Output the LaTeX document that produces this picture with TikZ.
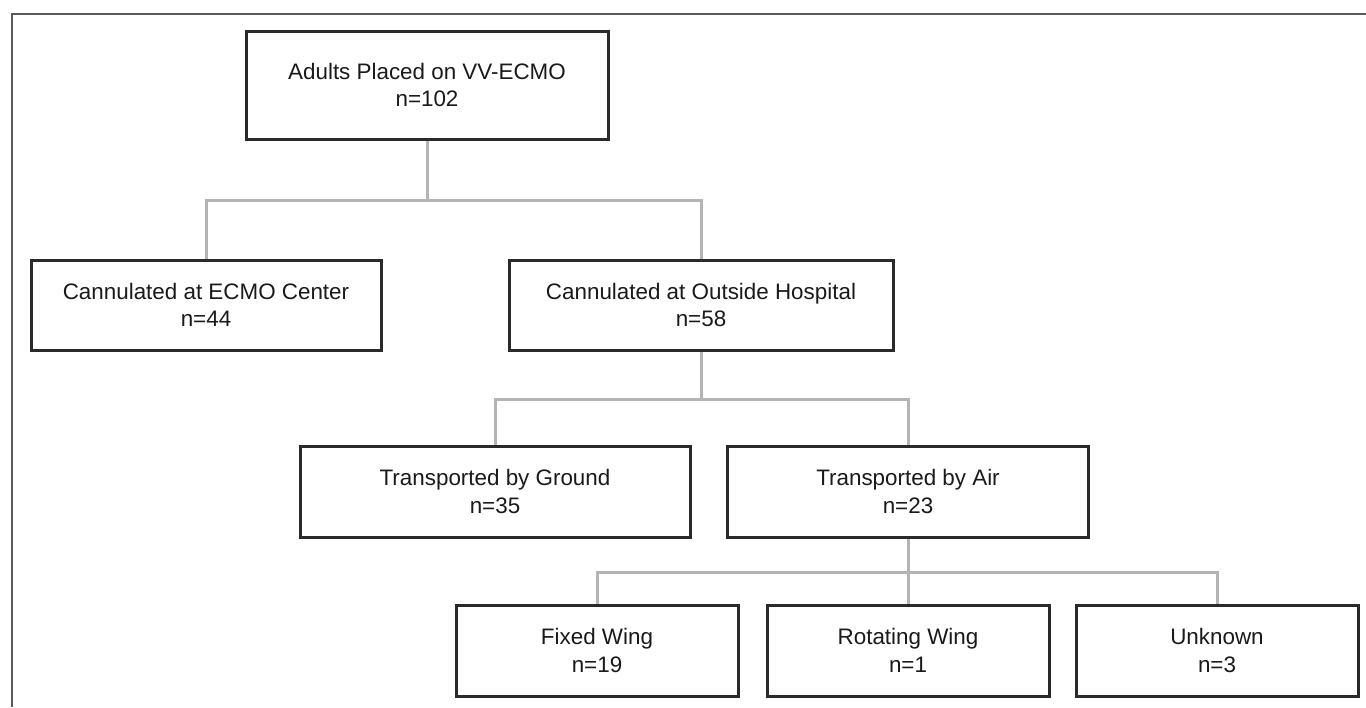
\documentclass[tikz,border=0pt]{standalone}
\usepackage{fontspec}
\setmainfont{Liberation Sans}
\usetikzlibrary{backgrounds}
\definecolor{boxline}{HTML}{2A2A2A}
\definecolor{linkgray}{HTML}{B4B4B4}
\definecolor{framegray}{HTML}{5A5A5A}
\definecolor{textgray}{HTML}{1A1A1A}

\begin{document}
\begin{tikzpicture}[x=0.75pt,y=-0.75pt,
  stage/.style={draw=boxline, line width=2.25pt, fill=white, text=textgray, align=center,
    inner sep=0pt, font=\fontsize{16.8}{20.5}\selectfont},
  leaf/.style={stage, minimum width=211.5pt, minimum height=68.25pt},
  link/.style={draw=linkgray, line width=2.25pt},
  frame/.style={draw=framegray, line width=1.5pt}]
 \useasboundingbox (0,0) rectangle (1366,707);
 \draw[frame] (12,707) -- (12,14) -- (1366,14); % le cadre

 \node[stage, minimum width=271.5pt, minimum height=81pt] (adults) at (427,85) {Adults Placed on VV-ECMO\\n=102};
 \node[stage, minimum width=262.5pt, minimum height=67.5pt] (ecmo) at (206,305) {Cannulated at ECMO Center\\n=44};
 \node[stage, minimum width=288pt, minimum height=67.5pt] (outside) at (701,305) {Cannulated at Outside Hospital\\n=58};
 \node[stage, minimum width=292.5pt, minimum height=68.25pt] (ground) at (495,491.5) {Transported by Ground\\n=35};
 \node[stage, minimum width=270.75pt, minimum height=68.25pt] (air) at (908,491.5) {Transported by Air\\n=23};
 \node[leaf] (fixed) at (597,650.5) {Fixed Wing\\n=19};
 \node[leaf] (rotating) at (908,650.5) {Rotating Wing\\n=1};
 \node[leaf] (unknown) at (1217,650.5) {Unknown\\n=3};

 % les branches
 \coordinate (forkA) at (427,200);
 \coordinate (forkB) at (701,399);
 \coordinate (forkC) at (908,572);
 \begin{scope}[on background layer]
 \draw[link] (adults.south) -- (forkA) -| (ecmo.north);
 \draw[link] (forkA) -| (outside.north);
 \draw[link] (outside.south) -- (forkB) -| (ground.north);
 \draw[link] (forkB) -| (air.north);
 \draw[link] (air.south) -- (forkC) -| (fixed.north);
 \draw[link] (forkC) -- (rotating.north);
 \draw[link] (forkC) -| (unknown.north);
 \end{scope}
\end{tikzpicture}
\end{document}
